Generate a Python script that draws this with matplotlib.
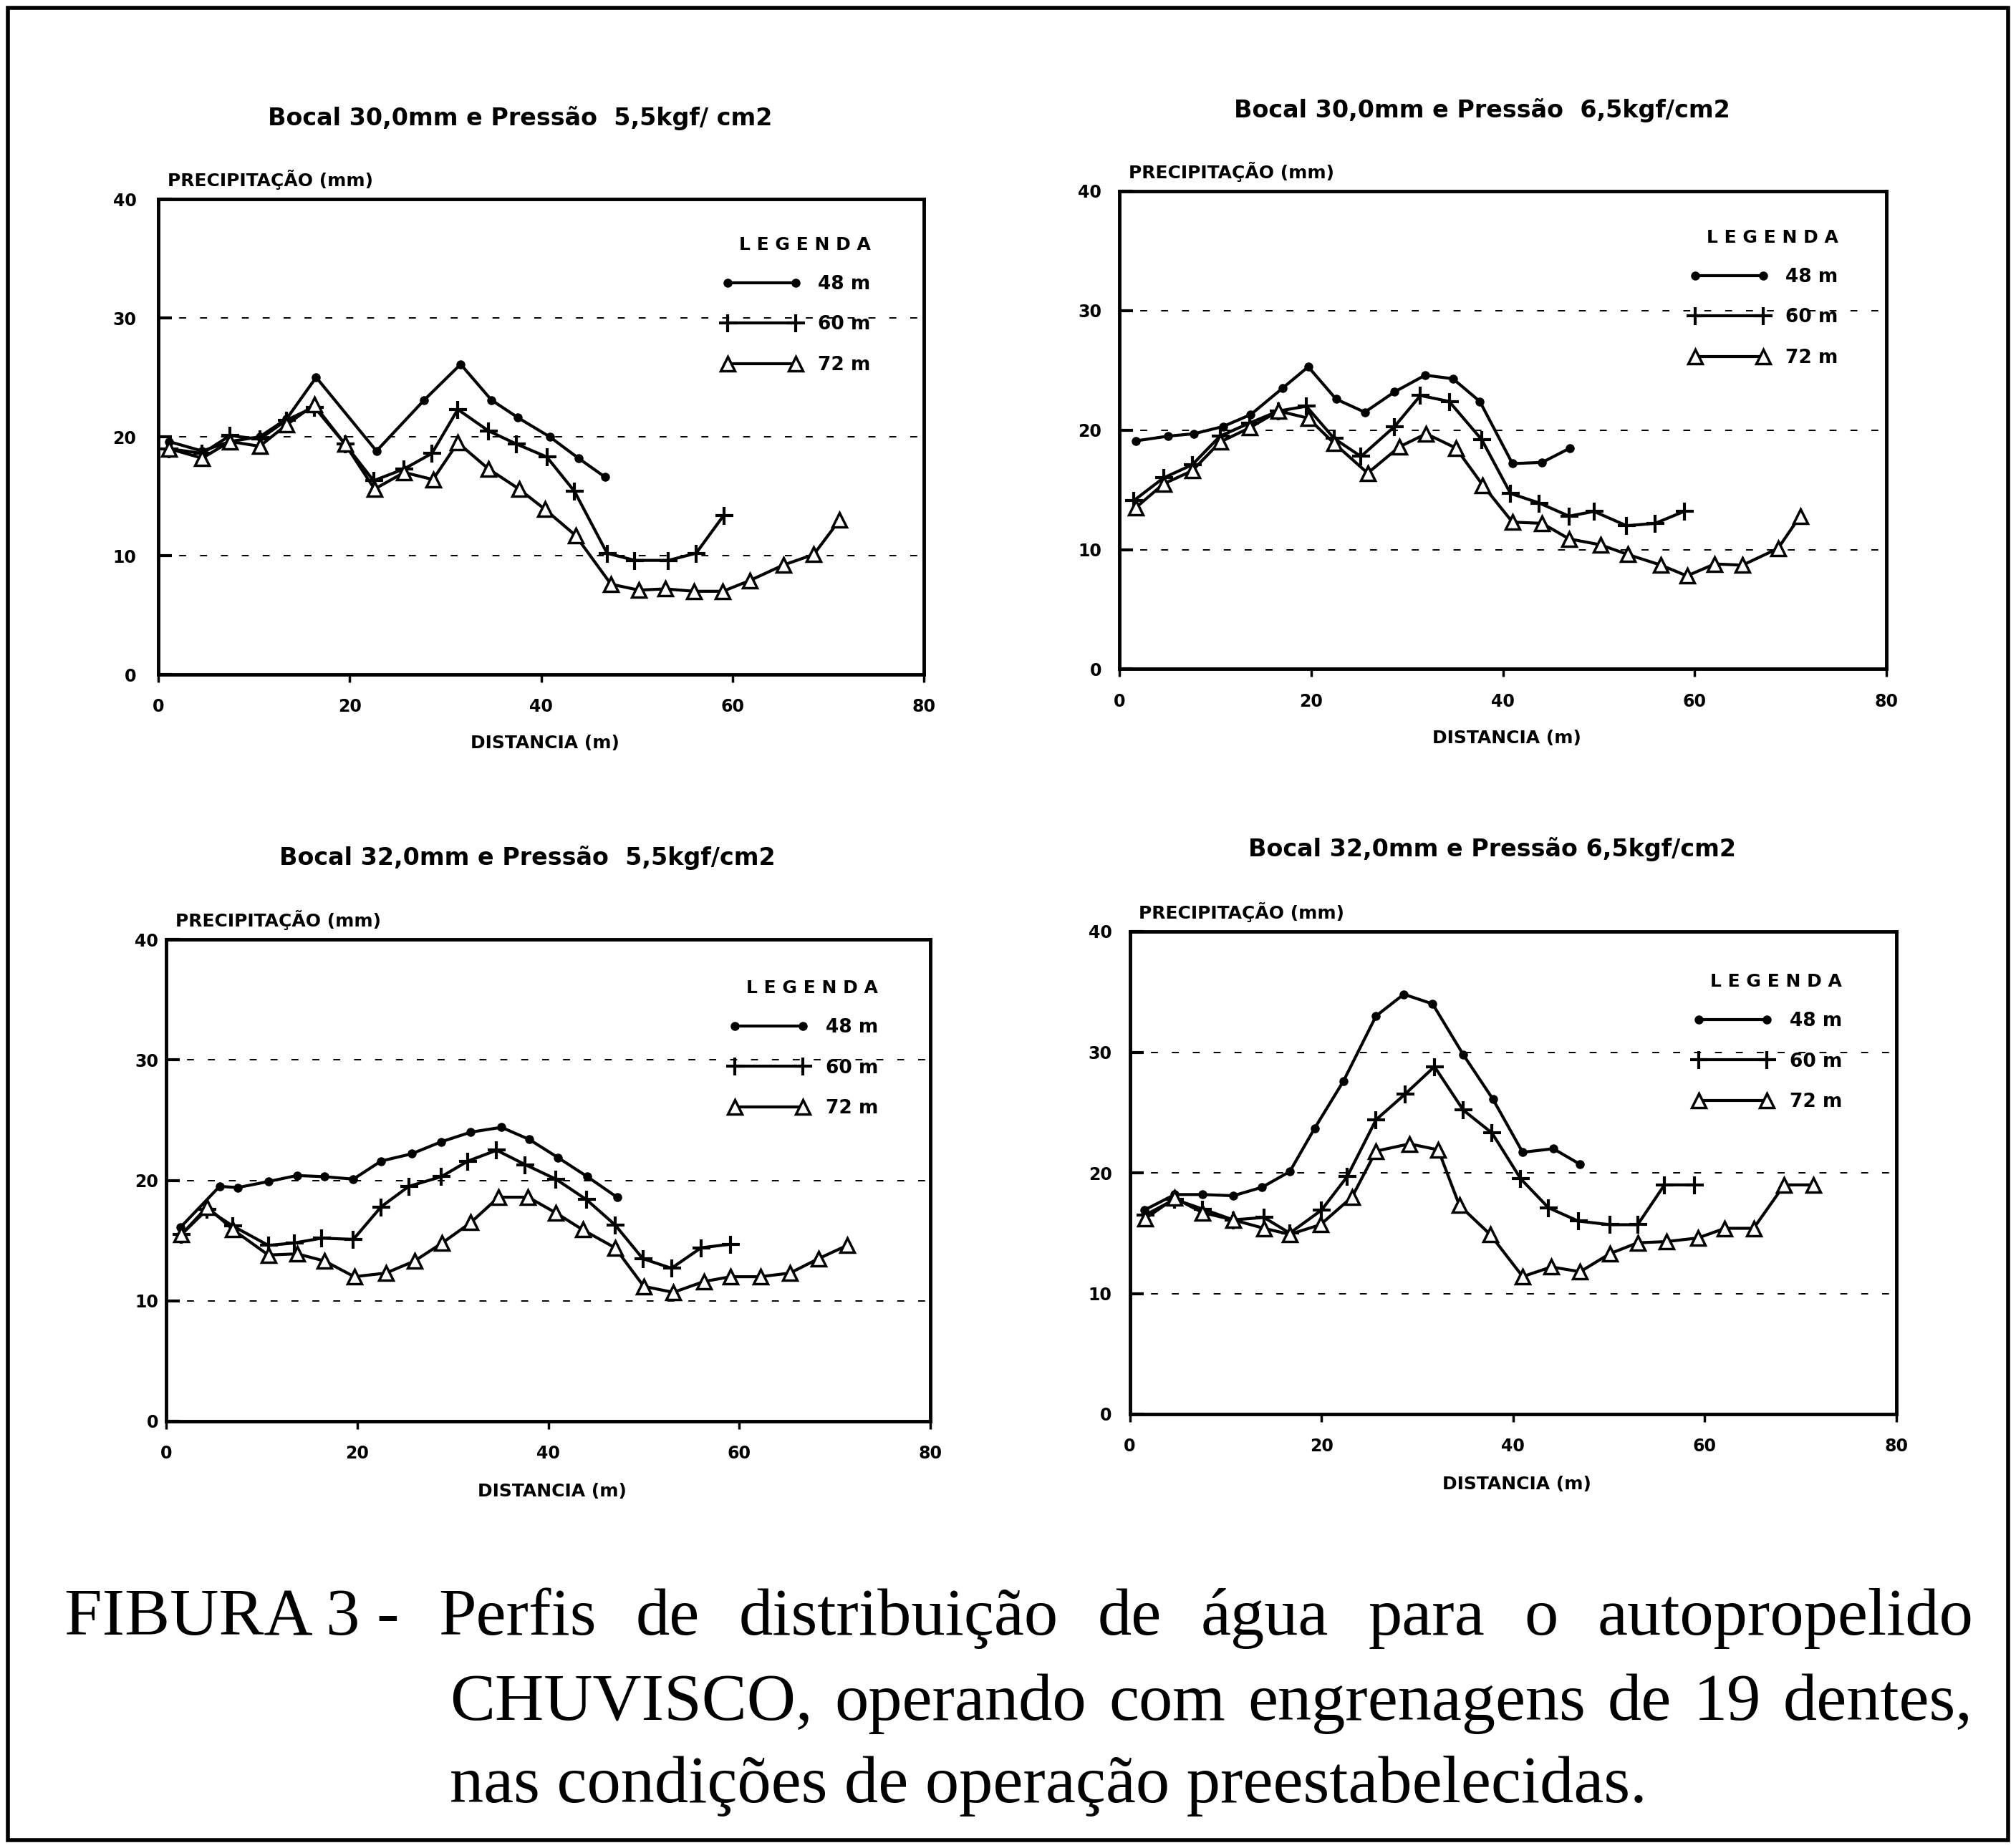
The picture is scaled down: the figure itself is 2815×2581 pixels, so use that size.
import numpy as np
import matplotlib.pyplot as plt
from matplotlib.patches import Rectangle

# distancia (m) e precipitacao (mm)
# Bocal 30,0 mm - 5,5 kgf/cm2
p1_48_x = [1.1, 4.6, 7.5, 10.6, 13.4, 16.5, 22.8, 27.8, 31.6, 34.8, 37.6, 40.9, 43.9, 46.7]
p1_48_y = [19.6, 18.8, 19.6, 20.0, 21.5, 25.0, 18.8, 23.1, 26.1, 23.1, 21.6, 20.0, 18.2, 16.6]
p1_60_x = [1.1, 4.6, 7.5, 10.6, 13.4, 16.3, 19.5, 22.5, 25.7, 28.6, 31.3, 34.5, 37.4, 40.6,
           43.5, 46.9, 49.8, 53.3, 56.2, 59.1]
p1_60_y = [19.0, 18.6, 20.1, 19.8, 21.4, 22.5, 19.4, 16.3, 17.3, 18.6, 22.3, 20.5, 19.4, 18.3,
           15.4, 10.2, 9.6, 9.6, 10.2, 13.4]
p1_72_x = [1.1, 4.6, 7.5, 10.6, 13.4, 16.3, 19.5, 22.6, 25.7, 28.7, 31.3, 34.5, 37.7, 40.4,
           43.6, 47.3, 50.2, 53.0, 56.0, 59.0, 61.8, 65.3, 68.5, 71.2]
p1_72_y = [19.0, 18.2, 19.6, 19.2, 21.0, 22.7, 19.4, 15.6, 17.0, 16.4, 19.5, 17.3, 15.6, 13.9,
           11.7, 7.6, 7.1, 7.2, 7.0, 7.0, 7.9, 9.2, 10.1, 13.0]

# Bocal 30,0 mm - 6,5 kgf/cm2
p2_48_x = [1.7, 5.1, 7.8, 10.8, 13.7, 17.0, 19.7, 22.6, 25.6, 28.7, 31.9, 34.8, 37.6, 41.0, 44.1, 47.0]
p2_48_y = [19.1, 19.5, 19.7, 20.3, 21.3, 23.5, 25.3, 22.6, 21.5, 23.2, 24.6, 24.3, 22.4, 17.2, 17.3, 18.5]
p2_60_x = [1.5, 4.6, 7.6, 10.5, 13.6, 16.6, 19.5, 22.4, 25.2, 28.7, 31.4, 34.4, 37.8, 40.8,
           43.8, 46.9, 49.5, 52.9, 55.9, 58.9]
p2_60_y = [14.1, 16.0, 17.1, 19.5, 20.6, 21.6, 22.0, 19.3, 17.8, 20.3, 22.9, 22.4, 19.2, 14.7,
           13.9, 12.8, 13.2, 12.0, 12.2, 13.2]
p2_72_x = [1.7, 4.6, 7.6, 10.5, 13.6, 16.6, 19.7, 22.4, 25.9, 29.2, 32.0, 35.1, 37.9, 41.0,
           44.1, 46.9, 50.2, 53.0, 56.5, 59.2, 62.1, 65.0, 68.7, 71.0]
p2_72_y = [13.5, 15.5, 16.6, 19.0, 20.2, 21.6, 21.0, 18.9, 16.4, 18.6, 19.7, 18.5, 15.4, 12.3,
           12.2, 10.9, 10.4, 9.6, 8.7, 7.8, 8.8, 8.7, 10.1, 12.8]

# Bocal 32,0 mm - 5,5 kgf/cm2
p3_48_x = [1.5, 5.6, 7.5, 10.7, 13.7, 16.6, 19.6, 22.5, 25.7, 28.8, 31.9, 35.1, 38.0, 41.0, 44.1, 47.2]
p3_48_y = [16.1, 19.5, 19.4, 19.9, 20.4, 20.3, 20.1, 21.6, 22.2, 23.2, 24.0, 24.4, 23.4, 21.9, 20.3, 18.6]
p3_60_x = [1.6, 4.3, 7.0, 10.7, 13.4, 16.3, 19.6, 22.5, 25.4, 28.8, 31.6, 34.6, 37.6, 40.8,
           44.0, 47.0, 49.9, 52.9, 56.0, 59.1]
p3_60_y = [15.5, 17.6, 16.2, 14.6, 14.8, 15.2, 15.1, 17.8, 19.5, 20.3, 21.6, 22.5, 21.3, 20.1,
           18.4, 16.3, 13.5, 12.7, 14.4, 14.7]
p3_72_x = [1.6, 4.3, 7.0, 10.7, 13.7, 16.6, 19.7, 23.0, 26.0, 28.9, 31.9, 34.8, 37.9, 40.8,
           43.6, 47.0, 50.0, 53.1, 56.3, 59.1, 62.2, 65.3, 68.3, 71.3]
p3_72_y = [15.5, 17.8, 15.9, 13.8, 13.9, 13.3, 12.0, 12.3, 13.3, 14.8, 16.5, 18.6, 18.6, 17.3,
           15.9, 14.4, 11.2, 10.7, 11.6, 12.0, 12.0, 12.3, 13.5, 14.6]

# Bocal 32,0 mm - 6,5 kgf/cm2
p4_48_x = [1.5, 4.7, 7.6, 10.8, 13.8, 16.7, 19.3, 22.3, 25.7, 28.6, 31.6, 34.8, 37.9, 41.0, 44.2, 47.0]
p4_48_y = [16.9, 18.2, 18.2, 18.1, 18.8, 20.1, 23.7, 27.6, 33.0, 34.8, 34.0, 29.8, 26.1, 21.7, 22.0, 20.7]
p4_60_x = [1.6, 4.7, 7.6, 10.8, 14.0, 16.7, 20.0, 22.7, 25.7, 28.7, 31.8, 34.8, 37.8, 40.8,
           43.7, 46.8, 50.1, 53.0, 55.8, 58.9]
p4_60_y = [16.5, 17.8, 17.0, 16.1, 16.3, 15.0, 16.9, 19.7, 24.4, 26.5, 28.8, 25.2, 23.3, 19.5,
           17.1, 16.0, 15.7, 15.7, 19.0, 19.0]
p4_72_x = [1.6, 4.7, 7.6, 10.8, 14.0, 16.7, 19.9, 23.2, 25.7, 29.2, 32.2, 34.4, 37.6, 41.0,
           44.0, 47.0, 50.1, 53.0, 56.0, 59.3, 62.1, 65.1, 68.3, 71.3]
p4_72_y = [16.2, 17.9, 16.7, 16.1, 15.4, 14.9, 15.7, 18.0, 21.8, 22.4, 21.9, 17.3, 14.9, 11.4,
           12.2, 11.8, 13.3, 14.2, 14.3, 14.6, 15.4, 15.4, 19.0, 19.0]

titles = ["Bocal 30,0mm e Pressão  5,5kgf/ cm2",
          "Bocal 30,0mm e Pressão  6,5kgf/cm2",
          "Bocal 32,0mm e Pressão  5,5kgf/cm2",
          "Bocal 32,0mm e Pressão 6,5kgf/cm2"]
labels = ["48 m", "60 m", "72 m"]
xticks = [0, 20, 40, 60, 80]
yticks = [0, 10, 20, 30, 40]

series = [
    [(p1_48_x, p1_48_y), (p1_60_x, p1_60_y), (p1_72_x, p1_72_y)],
    [(p2_48_x, p2_48_y), (p2_60_x, p2_60_y), (p2_72_x, p2_72_y)],
    [(p3_48_x, p3_48_y), (p3_60_x, p3_60_y), (p3_72_x, p3_72_y)],
    [(p4_48_x, p4_48_y), (p4_60_x, p4_60_y), (p4_72_x, p4_72_y)],
]

W, H = 2815, 2581
fig = plt.figure(figsize=(W / 100, H / 100), dpi=100)

# caixas dos graficos em pixels: esquerda, direita, topo, base
boxes = [(221, 1290, 278, 942), (1563, 2634, 267, 934.5),
         (232, 1299, 1312, 1985), (1577.5, 2648, 1301, 1975)]
ypads = [22, 18, 8, 18]
legpos = [(0.736, 0.922), (0.743, 0.921), (0.737, 0.917), (0.735, 0.914)]

styles = [dict(marker="o", ms=8),
          dict(marker="+", ms=18, mew=3),
          dict(marker="^", ms=14, mfc="white", mew=2.5)]

for i in range(4):
    l, r, t, b = boxes[i]
    ax = fig.add_axes([l / W, 1 - b / H, (r - l) / W, (b - t) / H])
    for (x, y), st, lab in zip(series[i], styles, labels):
        ax.plot(x, y, color="k", lw=3, label=lab, **st)
    ax.set_xlim(0, 80)
    ax.set_ylim(0, 40)
    ax.set_xticks(xticks)
    ax.set_yticks(yticks)
    ax.grid(axis="y", color="k", lw=1.4, linestyle=(0, (5, 10)))
    for s in ax.spines.values():
        s.set_linewidth(3.5)
    ax.tick_params(axis="x", direction="out", length=8, width=2.5, pad=16, labelsize=17)
    ax.tick_params(axis="y", direction="in", length=14, width=3, pad=ypads[i], labelsize=17)
    for lb in ax.get_xticklabels() + ax.get_yticklabels():
        lb.set_fontweight("bold")
    ax.text(0.473, 1.17, titles[i], transform=ax.transAxes, ha="center", va="center",
            fontsize=24, fontweight="bold")
    ax.text(0.012, 1.04, "PRECIPITAÇÃO (mm)", transform=ax.transAxes, ha="left",
            va="center", fontsize=18, fontweight="bold")
    ax.text(0.505, -0.145, "DISTANCIA (m)", transform=ax.transAxes, ha="center",
            va="center", fontsize=18, fontweight="bold")
    ax.legend(loc="upper left", bbox_to_anchor=legpos[i], frameon=False,
              title="L E G E N D A", alignment="right", numpoints=2, handlelength=4.2,
              handletextpad=0.9, labelspacing=1.15, borderpad=0, borderaxespad=0,
              prop={"size": 19, "weight": "bold"},
              title_fontproperties={"size": 18, "weight": "bold"})

# legenda da figura, justificada como no original
cap_font = dict(family="Liberation Serif", fontsize=68)
renderer = fig.canvas.get_renderer()


def justify(words, x0, x1, y):
    txts = [fig.text(0, 1 - y / H, w, va="baseline", ha="left", **cap_font) for w in words]
    widths = [t.get_window_extent(renderer).width for t in txts]
    gap = (x1 - x0 - sum(widths)) / (len(words) - 1)
    x = x0
    for t, w in zip(txts, widths):
        t.set_x(x / W)
        x += w + gap


justify(["FIBURA 3 -", "Perfis", "de", "distribuição", "de", "água", "para", "o",
         "autopropelido"], 90, 2755, 2283)
justify(["CHUVISCO,", "operando", "com", "engrenagens", "de", "19", "dentes,"], 628, 2755, 2402)
fig.text(628 / W, 1 - 2517 / H, "nas condições de operação preestabelecidas.",
         va="baseline", ha="left", **cap_font)

fig.patches.append(Rectangle((11 / W, 11 / H), 1 - 22 / W, 1 - 22 / H, fill=False,
                             lw=4, ec="k", transform=fig.transFigure, figure=fig))

fig.savefig("out.png", dpi=100)
